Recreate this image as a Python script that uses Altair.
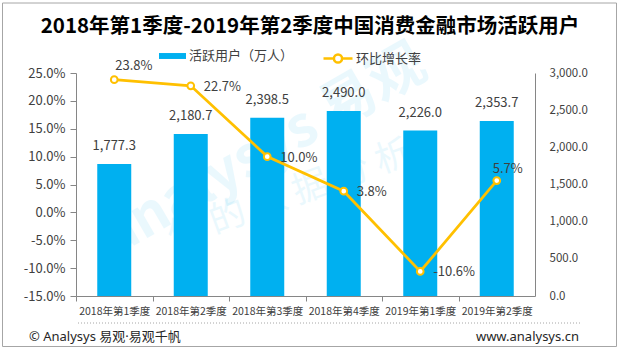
import altair as alt
import pandas as pd

quarters = ['2018年第1季度', '2018年第2季度', '2018年第3季度',
            '2018年第4季度', '2019年第1季度', '2019年第2季度']
users = [1777.3, 2180.7, 2398.5, 2490.0, 2226.0, 2353.7]
growth = [23.8, 22.7, 10.0, 3.8, -10.6, 5.7]
series_bar = '活跃用户（万人）'
series_line = '环比增长率'
title_text = '2018年第1季度-2019年第2季度中国消费金融市场活跃用户'
footer_left = '© Analysys 易观·易观千帆'
footer_right = 'www.analysys.cn'

FONT = 'Noto Sans CJK SC'
FONT2 = "'Noto Sans', 'Noto Sans CJK SC'"
BLUE = '#00B0F0'
ORANGE = '#FFC000'
TXT = '#404040'
AXC = '#868686'

df = pd.DataFrame({'q': quarters, 'users': users, 'growth': growth,
                   's1': series_bar, 's2': series_line})
base = alt.Chart(df)
one = alt.Chart(pd.DataFrame({'a': [0]}))

x = alt.X('q:N', sort=quarters, title=None,
          scale=alt.Scale(paddingInner=0.5556, paddingOuter=0.2778),
          axis=alt.Axis(labelAngle=0, labelFont=FONT, labelFontSize=10.5, labelColor=TXT,
                        domainColor=AXC, tickColor=AXC, tickSize=5,
                        tickOffset=-38.25, labelOffset=38.25, labelPadding=5))

yU = alt.Y('users:Q', title=None,
           scale=alt.Scale(domain=[0, 3000], nice=False),
           axis=alt.Axis(orient='right', values=[0, 500, 1000, 1500, 2000, 2500, 3000],
                         format=',.1f', ticks=False, tickSize=0, labelPadding=14,
                         domainColor=AXC, grid=False, labelFont=FONT, labelFontSize=11.5,
                         labelColor=TXT))

yG = alt.Y('growth:Q', title=None,
           scale=alt.Scale(domain=[-15, 25], nice=False, zero=False),
           axis=alt.Axis(orient='left', values=[-15, -10, -5, 0, 5, 10, 15, 20, 25],
                         labelExpr="(datum.value < 0 ? '-' : '') + format(abs(datum.value), '.1f') + '%'",
                         tickSize=6, tickColor=AXC, domainColor=AXC, labelPadding=5,
                         grid=False, labelFont=FONT, labelFontSize=13, labelColor=TXT))

bars = base.mark_bar().encode(
    x=x, y=yU,
    color=alt.Color('s1:N', scale=alt.Scale(domain=[series_bar], range=[BLUE]),
                    legend=alt.Legend(title=None, orient='none', legendX=83, legendY=-30.5,
                                      symbolType='M-1,-0.22H1V0.22H-1Z', symbolSize=729,
                                      symbolStrokeWidth=0, labelFont=FONT, labelFontSize=13,
                                      labelColor=TXT, labelOffset=3, padding=0)))
bar_text = base.mark_text(baseline='middle', dy=-18, font=FONT, fontSize=13, color=TXT).encode(
    x=x, y=yU, text=alt.Text('users:Q', format=',.1f'))

line = base.mark_line(strokeWidth=2.75).encode(
    x=x, y=yG,
    stroke=alt.Stroke('s2:N', scale=alt.Scale(domain=[series_line], range=[ORANGE]),
                      legend=alt.Legend(title=None, orient='none', legendX=246, legendY=-30.5,
                                        symbolType='M-1,0H-0.28A0.28,0.28,0,1,1,0.28,0H1M0.28,0A0.28,0.28,0,1,1,-0.28,0',
                                        symbolSize=841, symbolStrokeWidth=2.5,
                                        symbolFillColor='white', labelFont=FONT,
                                        labelFontSize=13, labelColor=TXT, labelOffset=2,
                                        padding=0)))
points = base.mark_point(shape='circle', filled=True, fill='white', stroke=ORANGE,
                         strokeWidth=2, size=45, opacity=1).encode(x=x, y=yG)

lbl = base.transform_calculate(
    lab="(datum.growth < 0 ? '-' : '') + format(abs(datum.growth), '.1f') + '%'")
tkw = dict(font=FONT, fontSize=13, color=TXT, baseline='middle', align='left')
t_first = lbl.transform_filter(alt.FieldEqualPredicate(field='q', equal=quarters[0])).mark_text(
    dx=1, dy=-14, **tkw).encode(x=x, y=yG, text='lab:N')
t_mid = lbl.transform_filter(alt.FieldOneOfPredicate(field='q', oneOf=quarters[1:5])).mark_text(
    dx=13, dy=1, **tkw).encode(x=x, y=yG, text='lab:N')
t_last = lbl.transform_filter(alt.FieldEqualPredicate(field='q', equal=quarters[5])).mark_text(
    dx=-4, dy=-12, **tkw).encode(x=x, y=yG, text='lab:N')

wm1 = one.mark_text(text='analysys 易观', font=FONT, fontSize=56, fontWeight='bold',
                    color=BLUE, opacity=0.08, angle=330, align='center', baseline='middle').encode(
    x=alt.value(188), y=alt.value(78))
wm2 = one.mark_text(text='你  的  数  据  分  析', font=FONT, fontSize=36,
                    color=BLUE, opacity=0.08, angle=340, align='center', baseline='middle').encode(
    x=alt.value(214), y=alt.value(122))

title = one.mark_text(text=title_text, font=FONT, fontSize=20.5, fontWeight='bold',
                      color='black', align='center', baseline='middle').encode(
    x=alt.value(234), y=alt.value(-46))
f_left = one.mark_text(text=footer_left, font=FONT2, fontSize=13, color='#262626',
                       align='left', baseline='middle').encode(x=alt.value(-47), y=alt.value(264))
f_right = one.mark_text(text=footer_right, font=FONT2, fontSize=13, color='#262626',
                        align='right', baseline='middle').encode(x=alt.value(503), y=alt.value(264))
dotted = one.mark_rule(color='#A6A6A6', strokeDash=[1, 2], strokeWidth=1).encode(
    x=alt.value(2), x2=alt.value(504), y=alt.value(250))
border = one.mark_rect(fillOpacity=0, stroke='#A6A6A6', strokeWidth=1).encode(
    x=alt.value(-73.5), x2=alt.value(540.5), y=alt.value(-70), y2=alt.value(273.5))

bar_group = alt.layer(bars, bar_text)
line_group = alt.layer(line, points, t_first, t_mid, t_last)

chart = alt.layer(wm1, wm2, bar_group, line_group, title, f_left, f_right, dotted, border).resolve_scale(
    y='independent'
).properties(
    width=459, height=223,
    padding={'left': 76, 'top': 73, 'right': 85, 'bottom': 55},
    autosize=alt.AutoSizeParams(type='none'),
    background='white'
).configure_view(strokeWidth=0)

chart.save('out.html', embed_options={'renderer': 'svg', 'actions': False})
